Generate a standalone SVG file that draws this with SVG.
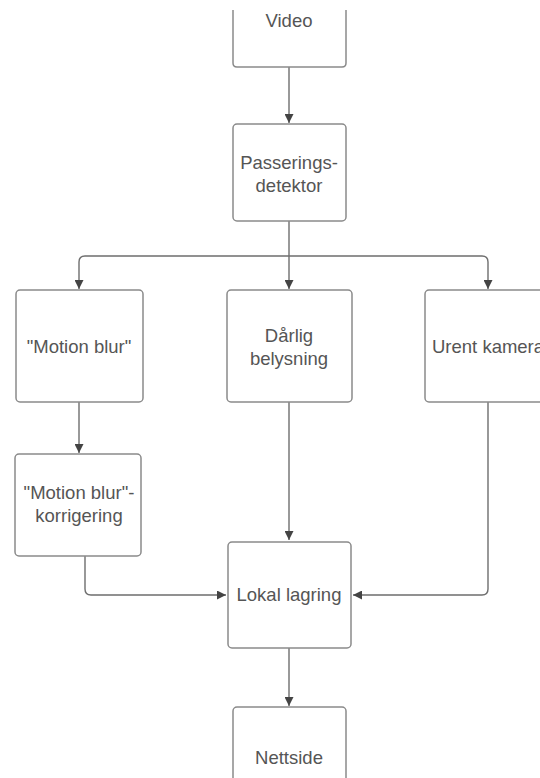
<svg xmlns="http://www.w3.org/2000/svg" width="540" height="778" viewBox="0 0 540 778">
  <defs>
    <style>
      .box { fill: #ffffff; stroke: #8a8a8a; stroke-width: 1.5; }
      .lbl { font-family: "Liberation Sans", Arial, sans-serif; font-size: 18.5px; fill: #555555; text-anchor: middle; dominant-baseline: central; }
      .start { text-anchor: start; }
      .edge { fill: none; stroke: #6e6e6e; stroke-width: 1.4; }
    </style>
    <marker id="arrow" viewBox="0 0 10 10" refX="10" refY="5" markerWidth="9" markerHeight="9" markerUnits="userSpaceOnUse" orient="auto">
      <path d="M0,0 L10,5 L0,10 Z" fill="#444444"/>
    </marker>
  </defs>
  <rect width="540" height="778" fill="#ffffff"/>

  <g id="connectors">
    <path class="edge" d="M289,67 V123" marker-end="url(#arrow)"/>
    <path class="edge" d="M289,221 V256"/>
    <path class="edge" d="M289,256 H85 Q79,256 79,262 V289" marker-end="url(#arrow)"/>
    <path class="edge" d="M289,256 V289" marker-end="url(#arrow)"/>
    <path class="edge" d="M289,256 H482 Q488,256 488,262 V289" marker-end="url(#arrow)"/>
    <path class="edge" d="M79,402 V453" marker-end="url(#arrow)"/>
    <path class="edge" d="M289,402 V540" marker-end="url(#arrow)"/>
    <path class="edge" d="M85,556 V589 Q85,595 91,595 H226" marker-end="url(#arrow)"/>
    <path class="edge" d="M488,402 V589 Q488,595 482,595 H353" marker-end="url(#arrow)"/>
    <path class="edge" d="M289,648 V706" marker-end="url(#arrow)"/>
  </g>

  <g id="video">
    <path class="box" d="M233,10 V63 Q233,67 237,67 H342 Q346,67 346,63 V10"/>
    <text class="lbl" x="289" y="20">Video</text>
  </g>

  <g id="passeringsdetektor">
    <rect class="box" x="233" y="124" width="113" height="97" rx="4"/>
    <text class="lbl" x="289" y="162">Passerings-</text>
    <text class="lbl" x="289" y="185">detektor</text>
  </g>

  <g id="motion-blur">
    <rect class="box" x="16" y="290" width="127" height="112" rx="4"/>
    <text class="lbl" x="79" y="346">"Motion blur"</text>
  </g>

  <g id="darlig-belysning">
    <rect class="box" x="227" y="290" width="125" height="112" rx="4"/>
    <text class="lbl" x="289" y="335">Dårlig</text>
    <text class="lbl" x="289" y="358">belysning</text>
  </g>

  <g id="urent-kamera">
    <rect class="box" x="425" y="290" width="130" height="112" rx="4"/>
    <text class="lbl start" x="432" y="346">Urent kamera</text>
  </g>

  <g id="motion-blur-korrigering">
    <rect class="box" x="15" y="454" width="126" height="102" rx="4"/>
    <text class="lbl" x="79" y="492">"Motion blur"-</text>
    <text class="lbl" x="79" y="515">korrigering</text>
  </g>

  <g id="lokal-lagring">
    <rect class="box" x="228" y="542" width="123" height="106" rx="4"/>
    <text class="lbl" x="289" y="594">Lokal lagring</text>
  </g>

  <g id="nettside">
    <rect class="box" x="233" y="707" width="113" height="90" rx="4"/>
    <text class="lbl" x="289" y="757">Nettside</text>
  </g>
</svg>
